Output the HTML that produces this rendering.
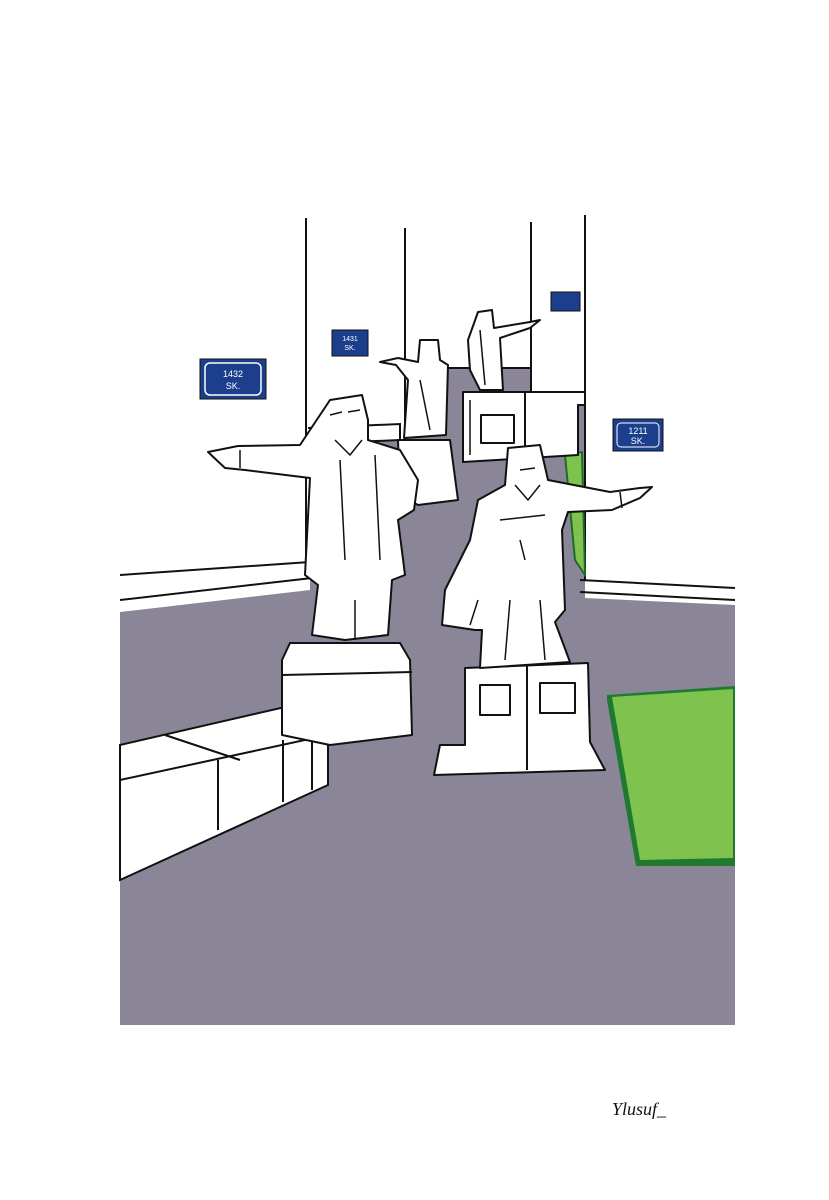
<!DOCTYPE html>
<html><head><style>html,body{margin:0;padding:0;background:#fff}svg{display:block}</style></head>
<body>
<svg width="829" height="1200" viewBox="0 0 829 1200" xmlns="http://www.w3.org/2000/svg" font-family="Liberation Sans, sans-serif">
<rect width="829" height="1200" fill="#fff"/>
<polygon points="120,612 310,590 310,445 405,440 430,368 530,368 530,405 585,405 585,598 735,605 735,1025 120,1025" fill="#8a8597"/>
<g stroke="#111" stroke-width="2" fill="none">
<line x1="306" y1="218" x2="306" y2="560"/>
<line x1="405" y1="228" x2="405" y2="440"/>
<line x1="531" y1="222" x2="531" y2="392"/>
<line x1="585" y1="215" x2="585" y2="580"/>
<line x1="430" y1="368" x2="530" y2="368"/>
<path d="M120,575 L310,562 M120,600 L312,578"/>
<path d="M580,580 L735,588 M580,592 L735,600"/>
<path d="M308,428 L400,424 L400,440 L308,444"/>
</g>
<path d="M565,455 L582,452 L585,575 L575,560 Z" fill="#7fc24d" stroke="#1d6b2b" stroke-width="2"/>
<path d="M607,695 L735,686 L735,866 L636,866 L607,700 Z" fill="#1f7a2f"/>
<path d="M612,697 L733,689 L733,858 L640,860 Z" fill="#7fc24d"/>
<g stroke="#111" stroke-width="2" fill="#fff">
<path d="M120,745 L285,707 L328,718 L328,785 L120,880 Z"/>
<path d="M120,780 L328,735" fill="none"/>
<path d="M218,760 L218,830 M283,740 L283,802 M312,735 L312,790" fill="none"/>
<path d="M165,735 L240,760" fill="none"/>
</g>
<g font-size="9" fill="#fff" text-anchor="middle">
<rect x="200" y="359" width="66" height="40" fill="#1b3f8c" stroke="#111"/>
<rect x="205" y="363" width="56" height="32" rx="5" fill="none" stroke="#fff" stroke-width="1.5"/>
<text x="233" y="377">1432</text><text x="233" y="389">SK.</text>
<rect x="332" y="330" width="36" height="26" fill="#1b3f8c" stroke="#111"/>
<text x="350" y="341" font-size="7">1431</text><text x="350" y="350" font-size="7">SK.</text>
<rect x="551" y="292" width="29" height="19" fill="#1b3f8c" stroke="#111"/>
<rect x="613" y="419" width="50" height="32" fill="#1b3f8c" stroke="#111"/>
<rect x="617" y="423" width="42" height="24" rx="4" fill="none" stroke="#fff"/>
<text x="638" y="434">1211</text><text x="638" y="444">SK.</text>
</g>
<g stroke="#111" stroke-width="2" fill="#fff" stroke-linejoin="round">
<path d="M463,392 L585,392 L585,405 L578,405 L578,455 L463,462 Z"/>
<rect x="481" y="415" width="33" height="28"/>
<line x1="525" y1="392" x2="525" y2="458"/>
<path d="M478,312 L492,310 L494,328 L530,322 L540,320 L530,328 L500,338 L503,390 L480,390 L470,370 L468,340 Z"/>
<path d="M398,440 L450,440 L458,500 L418,505 L400,495 Z"/>
<path d="M420,340 L438,340 L440,360 L448,365 L446,435 L404,438 L408,380 L396,365 L380,362 L398,358 L418,362 Z"/>
<path d="M282,660 L290,643 L400,643 L410,660 L412,735 L330,745 L282,735 Z"/>
<line x1="282" y1="675" x2="412" y2="672"/>
<path d="M330,400 L362,395 L368,420 L368,440 L400,450 L418,480 L414,510 L398,520 L405,575 L392,580 L388,635 L345,640 L312,635 L318,585 L305,575 L310,478 L245,470 L225,468 L208,452 L238,446 L300,445 Z"/>
<path d="M465,668 L588,663 L590,742 L605,770 L434,775 L440,745 L465,745 Z"/>
<rect x="480" y="685" width="30" height="30"/><rect x="540" y="683" width="35" height="30"/>
<line x1="527" y1="665" x2="527" y2="770"/>
<path d="M508,448 L540,445 L548,480 L610,492 L640,488 L652,487 L640,498 L612,510 L568,512 L562,530 L565,610 L555,622 L570,662 L480,668 L482,630 L475,630 L442,625 L445,590 L470,540 L478,500 L505,485 Z"/>
</g>
<g stroke="#111" stroke-width="1.5" fill="none">
<path d="M335,440 L350,455 L362,440 M340,460 L345,560 M375,455 L380,560 M355,600 L355,640 M240,450 L240,468 M330,415 L342,412 M348,412 L360,410"/>
<path d="M520,470 L535,468 M515,485 L528,500 L540,485 M500,520 L545,515 M520,540 L525,560 M478,600 L470,625 M510,600 L505,660 M540,600 L545,660 M620,492 L622,508"/>
<path d="M480,330 L485,385 M420,380 L430,430 M470,400 L470,455"/>
</g>
<text x="612" y="1115" font-size="18" font-style="italic" font-family="Liberation Serif, serif" fill="#111">Ylusuf_</text>
</svg>
</body></html>
